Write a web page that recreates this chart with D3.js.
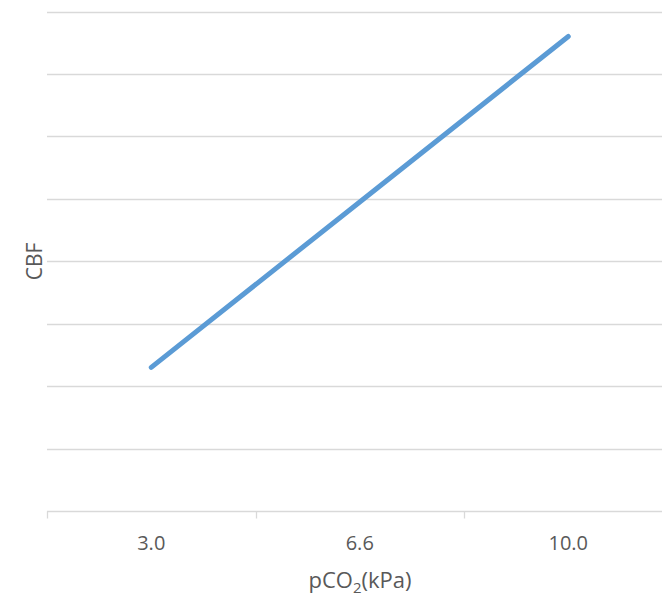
<!DOCTYPE html>
<html>
<head>
<meta charset="utf-8">
<script src="https://cdn.jsdelivr.net/npm/d3@7"></script>
<style>
  body { margin: 0; background: #fff; }
  svg text { font-family: "Open Sans", "Noto Sans", sans-serif; fill: #595959; }
</style>
</head>
<body>
<div id="chart"></div>
<script>
// pCO2 categories and CBF values (no y scale shown in the original)
const categories = ['3.0', '6.6', '10.0'];
const cbfValues = [2.3, 4.95, 7.6];
const yTicks = [0, 1, 2, 3, 4, 5, 6, 7, 8];

const width = 662, height = 596;
const margin = { top: 11.5, right: -10.5, bottom: 85, left: 47 };

const svg = d3.select('#chart')
    .append('svg')
    .attr('width', width)
    .attr('height', height);

const x = d3.scaleBand()
    .domain(categories)
    .range([margin.left, width - margin.right]);

const y = d3.scaleLinear()
    .domain([0, 8])
    .range([height - margin.bottom, margin.top]);

// horizontal gridlines
svg.append('g')
    .selectAll('line')
    .data(yTicks.slice(1))
    .enter()
    .append('line')
    .attr('x1', margin.left)
    .attr('x2', width)
    .attr('y1', d => Math.round(y(d)) + 0.5)
    .attr('y2', d => Math.round(y(d)) + 0.5)
    .attr('stroke', '#d9d9d9')
    .attr('stroke-width', 1.3);

// x axis with ticks between categories
const axisY = Math.round(y(0)) + 0.5;
svg.append('line')
    .attr('x1', margin.left)
    .attr('x2', width)
    .attr('y1', axisY)
    .attr('y2', axisY)
    .attr('stroke', '#d9d9d9')
    .attr('stroke-width', 1.3);

svg.append('g')
    .selectAll('line')
    .data(categories)
    .enter()
    .append('line')
    .attr('x1', d => Math.round(x(d)) + 0.5)
    .attr('x2', d => Math.round(x(d)) + 0.5)
    .attr('y1', axisY)
    .attr('y2', axisY + 7)
    .attr('stroke', '#d9d9d9')
    .attr('stroke-width', 1.3);

svg.append('g')
    .selectAll('text')
    .data(categories)
    .enter()
    .append('text')
    .attr('x', d => x(d) + x.bandwidth() / 2)
    .attr('y', axisY + 38.5)
    .attr('text-anchor', 'middle')
    .style('font-size', '20px')
    .text(d => d);

// data line
const line = d3.line()
    .x((d, i) => x(categories[i]) + x.bandwidth() / 2)
    .y(d => y(d));

svg.append('path')
    .datum(cbfValues)
    .attr('d', line)
    .attr('fill', 'none')
    .attr('stroke', '#5b9bd5')
    .attr('stroke-width', 5)
    .attr('stroke-linecap', 'round')
    .attr('stroke-linejoin', 'round');

// axis titles
const xTitle = svg.append('text')
    .attr('x', 360)
    .attr('y', 588)
    .attr('text-anchor', 'middle')
    .style('font-size', '22px');
xTitle.append('tspan').text('pCO');
xTitle.append('tspan').attr('dy', 5).style('font-size', '15px').text('2');
xTitle.append('tspan').attr('dy', -5).text('(kPa)');

svg.append('text')
    .attr('transform', `translate(42, ${(margin.top + axisY) / 2}) rotate(-90)`)
    .attr('text-anchor', 'middle')
    .style('font-size', '21px')
    .text('CBF');
</script>
</body>
</html>
